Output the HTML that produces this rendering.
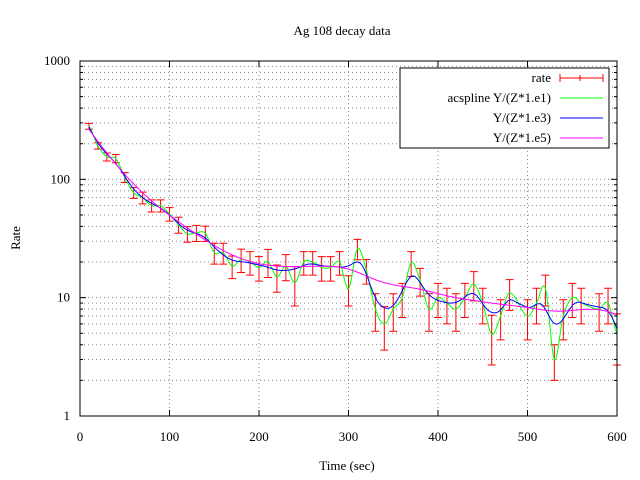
<!DOCTYPE html>
<html><head><meta charset="utf-8"><style>
html,body{margin:0;padding:0;background:#fff}
svg{display:block;font-family:"Liberation Serif",serif}
</style></head><body>
<svg id="chart" width="640" height="480" viewBox="0 0 640 480" xmlns="http://www.w3.org/2000/svg">
<rect x="0" y="0" width="640" height="480" fill="#fff"/>
<g id="grid"></g>
<g id="series"></g>
<rect x="80" y="61" width="537" height="355" fill="none" stroke="#000" stroke-width="1"/>
<g id="ticks"></g>
<text x="342" y="35" text-anchor="middle" font-size="13">Ag 108 decay data</text>
<text x="0" y="0" transform="translate(20,238) rotate(-90)" text-anchor="middle" font-size="13">Rate</text>
<text x="347" y="470" text-anchor="middle" font-size="13">Time (sec)</text>
<g id="legend">
<rect x="400" y="68" width="209" height="80" fill="#fff" stroke="#000"/>
</g>
</svg>
<script>
const times=[10,20,30,40,50,60,70,80,90,100,110,120,130,140,150,160,170,180,190,200,210,220,230,240,250,260,270,280,290,300,310,320,330,340,350,360,370,380,390,400,410,420,430,440,450,460,470,480,500,510,520,530,540,550,560,580,590,600];
const rates=[281,192,155,150,104,77,70,60,60,51,41.4,34.6,35.3,35,24,24,18.5,21,20,18,20.2,15,18.5,13.4,20,20,18,18,20,11.9,26,17,8,6,8,10,19.8,14,8,10,9,8,10,13,9,4.9,7,11,7,9,12,3,7,10,9,8,9,5];
const errors=[16,12,12,12,10,8,8,7,7,6.7,6.4,5.2,5.5,5.2,4.8,4.8,4,4.7,4.5,4.2,5.4,3.9,4.6,4.9,4.5,4.5,4.2,4.2,4.5,3.4,5.1,4,2.8,2.4,2.8,3.2,4.7,3.7,2.8,3.2,3,2.8,3.2,3.6,3,2.2,2.6,3.2,2.6,3,3.5,1,2.6,3.2,3,2.8,3,2.3];
const xTicks=[0,100,200,300,400,500,600];
const yTicks=[1,10,100,1000];
const legendLabels=["rate","acspline Y/(Z*1.e1)","Y/(Z*1.e3)","Y/(Z*1.e5)"];

const X0=80,X1=617,Y0=416,Y1=61;
function xs(t){return X0+(t-0)/(600-0)*(X1-X0);}
function ys(v){return Y0-(Math.log10(v)-0)/(3-0)*(Y0-Y1);}
const NS="http://www.w3.org/2000/svg";
function mk(tag,attrs,parent){const e=document.createElementNS(NS,tag);for(const k in attrs)e.setAttribute(k,attrs[k]);parent.appendChild(e);return e;}
const grid=document.getElementById('grid'),ticks=document.getElementById('ticks'),series=document.getElementById('series'),legend=document.getElementById('legend');

xTicks.forEach((t,i)=>{const x=xs(t);
  if(i>0&&i<xTicks.length-1){const g=mk('line',{x1:x,y1:Y0,x2:x,y2:Y1,stroke:'#888','stroke-dasharray':'1,3'},grid);
  
  }
  const a=mk('line',{x1:x,y1:Y0,x2:x,y2:Y0-6,stroke:'#000'},ticks);
  
  
  const b=mk('line',{x1:x,y1:Y1,x2:x,y2:Y1+6,stroke:'#000'},ticks);
  
  
  const l=mk('text',{x:x,y:441,'text-anchor':'middle','font-size':'13'},ticks);l.textContent=t;
  
  
});
yTicks.forEach((v,i)=>{const y=ys(v);
  const l=mk('text',{x:70,y:y+4,'text-anchor':'end','font-size':'13'},ticks);l.textContent=v;
  
  
  const a=mk('line',{x1:X0,y1:y,x2:X0+6,y2:y,stroke:'#000'},ticks);
  
  
  const b=mk('line',{x1:X1,y1:y,x2:X1-6,y2:y,stroke:'#000'},ticks);
  
  
  if(i>0&&i<yTicks.length-1){const g=mk('line',{x1:X0,y1:y,x2:X1,y2:y,stroke:'#888','stroke-dasharray':'1,3'},grid);
  
  }
  if(i<yTicks.length-1){for(let m=2;m<=9;m++){const yy=ys(v*m);
    const g=mk('line',{x1:X0,y1:yy,x2:X1,y2:yy,stroke:'#888','stroke-dasharray':'1,3'},grid);
    
    
    const a2=mk('line',{x1:X0,y1:yy,x2:X0+3,y2:yy,stroke:'#000'},ticks);
    
    
    const b2=mk('line',{x1:X1,y1:yy,x2:X1-3,y2:yy,stroke:'#000'},ticks);
    
    }}
});

function smooth(bw){const pts=[];for(let t=10;t<=600;t+=1){let S0=0,S1=0,S2=0,T0=0,T1=0;
  for(let i=0;i<times.length;i++){const dt=times[i]-t;const d=dt/bw;const rel=errors[i]/rates[i];const w=Math.exp(-0.5*d*d)/(rel*rel);const yv=Math.log10(rates[i]);
    S0+=w;S1+=w*dt;S2+=w*dt*dt;T0+=w*yv;T1+=w*dt*yv;}
  const det=S0*S2-S1*S1;const a=Math.abs(det)>1e-12?(S2*T0-S1*T1)/det:T0/S0;
  pts.push([t,Math.pow(10,a)]);}return pts;}
function catmull(){const pts=[];const n=times.length;const L=times.map((t,i)=>Math.log10(rates[i]));
  for(let i=0;i<n-1;i++){const p0=L[Math.max(0,i-1)],p1=L[i],p2=L[i+1],p3=L[Math.min(n-1,i+2)];
    for(let k=0;k<10;k++){const u=k/10;const v=0.5*((2*p1)+(-p0+p2)*u+(2*p0-5*p1+4*p2-p3)*u*u+(-p0+3*p1-3*p2+p3)*u*u*u);
      pts.push([times[i]+(times[i+1]-times[i])*u,Math.pow(10,v)]);}}
  pts.push([times[n-1],rates[n-1]]);return pts;}
function path(pts,color,name){const d=pts.map((p,i)=>(i?'L':'M')+xs(p[0]).toFixed(1)+','+ys(p[1]).toFixed(1)).join('');
  const e=mk('path',{d:d,fill:'none',stroke:color,'stroke-width':'1'},series);
  
  }

times.forEach((t,i)=>{const x=xs(t),yt=ys(rates[i]+errors[i]),yb=ys(Math.max(rates[i]-errors[i],0.5));
  const g=mk('path',{d:`M${x},${yt}L${x},${yb}M${x-4},${yt}L${x+4},${yt}M${x-4},${yb}L${x+4},${yb}`,stroke:'#f00',fill:'none','stroke-width':'1'},series);
  
  
});
path(catmull(),'#00ff00','acspline-e1-curve');
path(smooth(10),'#0000ff','spline-e3-curve');
path(smooth(28),'#ff00ff','spline-e5-curve');

const lc=['#f00','#00ff00','#0000ff','#ff00ff'];
legendLabels.forEach((s,i)=>{const y=78+i*20;
  const t=mk('text',{x:551,y:y+4,'text-anchor':'end','font-size':'13'},legend);t.textContent=s;
  
  
  const l=mk('path',{d:i==0?`M560,${y}L603,${y}M560,${y-4}L560,${y+4}M603,${y-4}L603,${y+4}M580,${y-3}L580,${y+3}`:`M560,${y}L603,${y}`,stroke:lc[i],fill:'none'},legend);
  
  
});
</script>
</body></html>
